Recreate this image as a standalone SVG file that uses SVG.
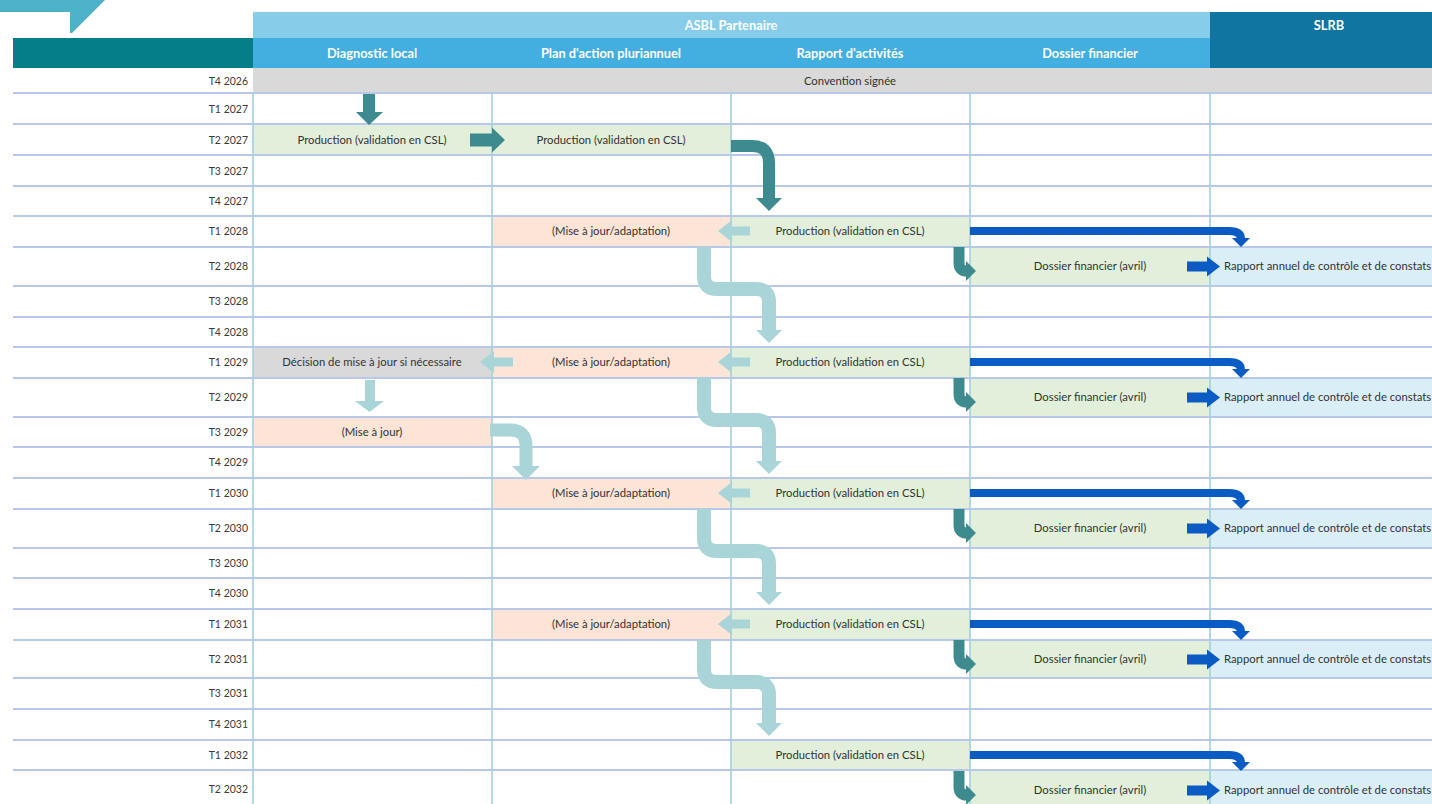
<svg xmlns="http://www.w3.org/2000/svg" width="1432" height="804" viewBox="0 0 1432 804">
  <style>
    text { font-family: Lato, "Open Sans", "Liberation Sans", sans-serif; }
    .lbl { font-size: 10.5px; fill: #3a3a3a; text-anchor: end; }
    .txt { font-size: 11.3px; fill: #333333; text-anchor: middle; }
    .txs { font-size: 11.3px; fill: #333333; text-anchor: start; }
    .hdr { font-size: 12.8px; font-weight: bold; fill: #ffffff; text-anchor: middle; }
    .green { fill: #e2efda; }
    .salmon { fill: #fce4d6; }
    .grey { fill: #d9d9d9; }
    .sky { fill: #daeef8; }
    .hl { stroke: #b7c8e8; stroke-width: 2; }
    .vl { stroke: #a3d0dc; stroke-width: 1.6; }
    .dk { fill: #3e8b8f; }
    .dks { fill: none; stroke: #3e8b8f; }
    .lt { fill: #a9d5d8; }
    .lts { fill: none; stroke: #a9d5d8; }
    .bl { fill: #0a5bc4; }
    .bls { fill: none; stroke: #0a5bc4; }
  </style>

  <defs>
    <!-- one yearly cycle: activity report, financial file and SLRB report -->
    <g id="cycle-core">
      <rect class="green" x="731" y="216" width="239" height="31"/>
      <text class="txt" x="850" y="235">Production (validation en CSL)</text>
      <rect class="green" x="970" y="247" width="240" height="39"/>
      <text class="txt" x="1090" y="270">Dossier financier (avril)</text>
      <rect class="sky" x="1210" y="247" width="222" height="39"/>
    </g>
    <g id="cycle-plan">
      <rect class="salmon" x="492" y="216" width="239" height="31"/>
      <text class="txt" x="611" y="235">(Mise à jour/adaptation)</text>
    </g>
    <!-- arrows of one yearly cycle -->
    <g id="cycle-arrows">
      <path class="bls" stroke-width="8" d="M970,231 H1229 Q1241,231 1241,239"/>
      <polygon class="bl" points="1232,238 1250,238 1241,247"/>
      <path class="dks" stroke-width="11" d="M959,247 V263 Q959,271 967,271"/>
      <polygon class="dk" points="966,261 966,281 976,271"/>
      <polygon class="bl" points="1187,261.5 1207,261.5 1207,256.5 1220,266.5 1207,276.5 1207,271.5 1187,271.5"/>
    </g>
    <g id="cycle-back">
      <polygon class="lt" points="750,226.5 732,226.5 732,220 718,231 732,242 732,235.5 750,235.5"/>
      <path class="lts" stroke-width="14" d="M704,247 V276 Q704,289 717,289 H756 Q769,289 769,302 V331"/>
      <polygon class="lt" points="756,330 782,330 769,343"/>
    </g>
  </defs>

  <rect x="0" y="0" width="1432" height="804" fill="#ffffff"/>

  <!-- corner tab -->
  <polygon points="0,0 105,0 72,33 70,33 70,12 0,12" fill="#4cb1c9"/>

  <!-- column headers -->
  <g id="header">
    <rect x="253" y="12" width="957" height="26" fill="#87cdea"/>
    <rect x="253" y="38" width="957" height="30" fill="#42afe0"/>
    <rect x="13" y="38" width="240" height="30" fill="#067e8a"/>
    <rect x="1210" y="12" width="222" height="56" fill="#1075a1"/>
    <text class="hdr" x="731" y="30">ASBL Partenaire</text>
    <text class="hdr" x="1329" y="30">SLRB</text>
    <text class="hdr" x="372" y="58">Diagnostic local</text>
    <text class="hdr" x="611" y="58">Plan d'action pluriannuel</text>
    <text class="hdr" x="850" y="58">Rapport d'activités</text>
    <text class="hdr" x="1090" y="58">Dossier financier</text>
  </g>

  <!-- cells -->
  <g id="convention">
    <rect class="grey" x="253" y="68" width="1179" height="25"/>
    <text class="txt" x="850" y="85">Convention signée</text>
  </g>
  <g id="diag-2027">
    <rect class="green" x="253" y="124" width="239" height="31"/>
    <text class="txt" x="372" y="144">Production (validation en CSL)</text>
  </g>
  <g id="plan-2027">
    <rect class="green" x="492" y="124" width="239" height="31"/>
    <text class="txt" x="611" y="144">Production (validation en CSL)</text>
  </g>
  <g id="cycle-2028"><use href="#cycle-plan"/><use href="#cycle-core"/></g>
  <g id="cycle-2029" transform="translate(0,131)"><use href="#cycle-plan"/><use href="#cycle-core"/></g>
  <g id="cycle-2030" transform="translate(0,262)"><use href="#cycle-plan"/><use href="#cycle-core"/></g>
  <g id="cycle-2031" transform="translate(0,393)"><use href="#cycle-plan"/><use href="#cycle-core"/></g>
  <g id="cycle-2032" transform="translate(0,524)"><use href="#cycle-core"/></g>
  <g id="decision-2029">
    <rect class="grey" x="253" y="347" width="239" height="31"/>
    <text class="txt" x="372" y="366">Décision de mise à jour si nécessaire</text>
  </g>
  <g id="update-2029">
    <rect class="salmon" x="253" y="417" width="239" height="30"/>
    <text class="txt" x="372" y="436">(Mise à jour)</text>
  </g>

  <!-- grid -->
  <g id="grid">
    <g class="hl">
      <line x1="13" y1="93" x2="1432" y2="93"/>
      <line x1="13" y1="124" x2="1432" y2="124"/>
      <line x1="13" y1="155" x2="1432" y2="155"/>
      <line x1="13" y1="186" x2="1432" y2="186"/>
      <line x1="13" y1="216" x2="1432" y2="216"/>
      <line x1="13" y1="247" x2="1432" y2="247"/>
      <line x1="13" y1="286" x2="1432" y2="286"/>
      <line x1="13" y1="317" x2="1432" y2="317"/>
      <line x1="13" y1="347" x2="1432" y2="347"/>
      <line x1="13" y1="378" x2="1432" y2="378"/>
      <line x1="13" y1="417" x2="1432" y2="417"/>
      <line x1="13" y1="447" x2="1432" y2="447"/>
      <line x1="13" y1="478" x2="1432" y2="478"/>
      <line x1="13" y1="509" x2="1432" y2="509"/>
      <line x1="13" y1="548" x2="1432" y2="548"/>
      <line x1="13" y1="578" x2="1432" y2="578"/>
      <line x1="13" y1="609" x2="1432" y2="609"/>
      <line x1="13" y1="640" x2="1432" y2="640"/>
      <line x1="13" y1="678" x2="1432" y2="678"/>
      <line x1="13" y1="709" x2="1432" y2="709"/>
      <line x1="13" y1="740" x2="1432" y2="740"/>
      <line x1="13" y1="770" x2="1432" y2="770"/>
    </g>
    <g class="vl">
      <line x1="253" y1="93" x2="253" y2="804"/>
      <line x1="492" y1="93" x2="492" y2="804"/>
      <line x1="731" y1="93" x2="731" y2="804"/>
      <line x1="970" y1="93" x2="970" y2="804"/>
      <line x1="1210" y1="93" x2="1210" y2="804"/>
    </g>
  </g>

  <!-- SLRB report texts -->
  <g id="slrb-reports">
    <text class="txs" x="1224" y="270">Rapport annuel de contrôle et de constats</text>
    <text class="txs" x="1224" y="401">Rapport annuel de contrôle et de constats</text>
    <text class="txs" x="1224" y="532">Rapport annuel de contrôle et de constats</text>
    <text class="txs" x="1224" y="663">Rapport annuel de contrôle et de constats</text>
    <text class="txs" x="1224" y="794">Rapport annuel de contrôle et de constats</text>
  </g>

  <!-- quarter labels -->
  <g id="quarters">
    <text class="lbl" x="248" y="85">T4 2026</text>
    <text class="lbl" x="248" y="113">T1 2027</text>
    <text class="lbl" x="248" y="144">T2 2027</text>
    <text class="lbl" x="248" y="175">T3 2027</text>
    <text class="lbl" x="248" y="205">T4 2027</text>
    <text class="lbl" x="248" y="235">T1 2028</text>
    <text class="lbl" x="248" y="270">T2 2028</text>
    <text class="lbl" x="248" y="305">T3 2028</text>
    <text class="lbl" x="248" y="336">T4 2028</text>
    <text class="lbl" x="248" y="366">T1 2029</text>
    <text class="lbl" x="248" y="401">T2 2029</text>
    <text class="lbl" x="248" y="436">T3 2029</text>
    <text class="lbl" x="248" y="466">T4 2029</text>
    <text class="lbl" x="248" y="497">T1 2030</text>
    <text class="lbl" x="248" y="532">T2 2030</text>
    <text class="lbl" x="248" y="567">T3 2030</text>
    <text class="lbl" x="248" y="597">T4 2030</text>
    <text class="lbl" x="248" y="628">T1 2031</text>
    <text class="lbl" x="248" y="663">T2 2031</text>
    <text class="lbl" x="248" y="697">T3 2031</text>
    <text class="lbl" x="248" y="728">T4 2031</text>
    <text class="lbl" x="248" y="759">T1 2032</text>
    <text class="lbl" x="248" y="793">T2 2032</text>
  </g>

  <!-- connectors -->
  <g id="connectors">
    <!-- first production -->
    <polygon class="dk" points="363,94 375,94 375,112 383,112 369,125 356,112 363,112"/>
    <polygon class="dk" points="470,133.5 492,133.5 492,127.5 505,140 492,152.5 492,146.5 470,146.5"/>
    <path class="dks" stroke-width="12" d="M731,146 H752 Q769,146 769,163 V199"/>
    <polygon class="dk" points="756,198 782,198 769,211"/>

    <!-- yearly cycles -->
    <use href="#cycle-arrows"/>
    <use href="#cycle-arrows" transform="translate(0,131)"/>
    <use href="#cycle-arrows" transform="translate(0,262)"/>
    <use href="#cycle-arrows" transform="translate(0,393)"/>
    <use href="#cycle-arrows" transform="translate(0,524)"/>
    <use href="#cycle-back"/>
    <use href="#cycle-back" transform="translate(0,131)"/>
    <use href="#cycle-back" transform="translate(0,262)"/>
    <use href="#cycle-back" transform="translate(0,393)"/>

    <!-- local diagnostic review -->
    <polygon class="lt" points="513,357.5 494,357.5 494,351 480,362 494,373 494,366.5 513,366.5"/>
    <polygon class="lt" points="365,380 375,380 375,401 384,401 369.5,412 355,401 365,401"/>
    <path class="lts" stroke-width="13" d="M490,430 H510 Q526,430 526,446 V467"/>
    <polygon class="lt" points="512,466 540,466 526,480"/>
  </g>
</svg>
